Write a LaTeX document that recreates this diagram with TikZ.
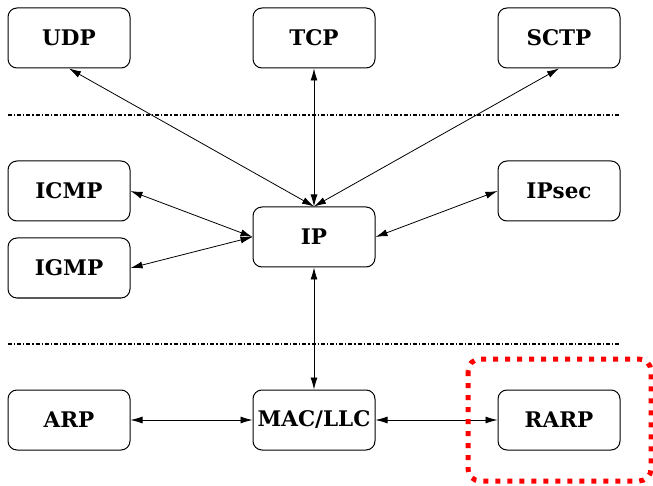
\documentclass[tikz,border=0pt]{standalone}
\usepackage{fontspec}
\setmainfont{DejaVu Serif}
\usetikzlibrary{arrows.meta}
\begin{document}
\begin{tikzpicture}[x=1pt,y=-1pt,
  proto/.style={draw, line width=1pt, rounded corners=9pt, minimum width=122pt, minimum height=60pt, inner sep=0pt, font=\fontsize{21.5}{24}\selectfont\bfseries},
  link/.style={line width=0.8pt, {Latex[length=12pt,width=7pt]}-{Latex[length=12pt,width=7pt]}},
  sep/.style={line width=2pt, dash pattern=on 4pt off 2pt on 1.2pt off 2pt}]
\useasboundingbox (0,0) rectangle (653,486);
\node[proto] (udp) at (69,38) {UDP};
\node[proto] (tcp) at (314,38) {TCP};
\node[proto] (sctp) at (559,38) {SCTP};
\node[proto] (icmp) at (69,191) {ICMP};
\node[proto] (igmp) at (69,268) {IGMP};
\node[proto] (ip) at (314,237) {IP};
\node[proto] (ipsec) at (559,191) {IPsec};
\node[proto] (arp) at (69,420) {ARP};
\node[proto] (mac) at (314,420) {MAC/LLC};
\node[proto] (rarp) at (559,420) {RARP};
\coordinate (s1a) at (8,115);
\coordinate (s1b) at (620,115);
\coordinate (s2a) at (8,344);
\coordinate (s2b) at (620,344);
\draw[sep] (s1a) -- (s1b);
\draw[sep] (s2a) -- (s2b);
\draw[link] (udp.south) -- (ip.north);
\draw[link] (tcp.south) -- (ip.north);
\draw[link] (sctp.south) -- (ip.north);
\draw[link] (icmp.east) -- (ip.west);
\draw[link] (igmp.east) -- (ip.west);
\draw[link] (ipsec.west) -- (ip.east);
\draw[link] (ip.south) -- (mac.north);
\draw[link] (arp.east) -- (mac.west);
\draw[link] (mac.east) -- (rarp.west);
\coordinate (hl1) at (468,359);
\coordinate (hl2) at (651,481);
\draw[red, line width=5pt, dash pattern=on 5pt off 7pt, rounded corners=12pt] (hl1) rectangle (hl2);
\end{tikzpicture}
\end{document}
